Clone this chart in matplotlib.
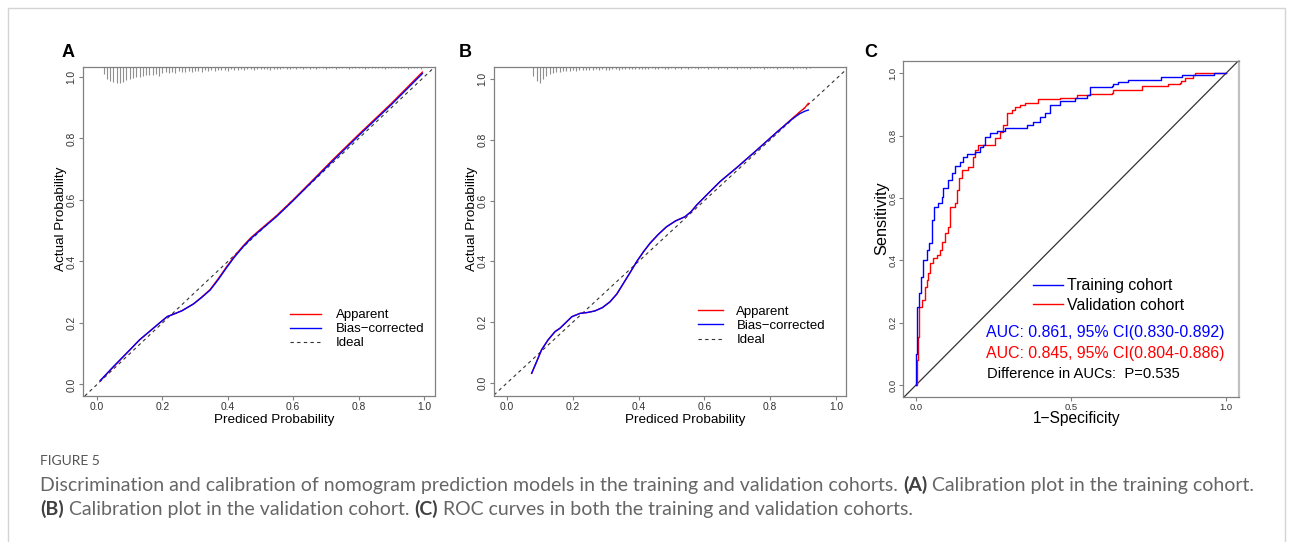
import numpy as np
import matplotlib.pyplot as plt
from matplotlib.patches import Rectangle

plt.rcParams['font.family'] = ['Liberation Sans', 'DejaVu Sans']

# ---- Panel A: calibration, training cohort ----
cal_a_x = [0.01, 0.05, 0.10, 0.13, 0.16, 0.19, 0.215, 0.235, 0.26, 0.295, 0.32, 0.346, 0.37,
           0.397, 0.42, 0.447, 0.47, 0.498, 0.549, 0.60, 0.661, 0.72, 0.80, 0.90, 0.995]
cal_a_apparent = [0.012, 0.057, 0.112, 0.145, 0.172, 0.199, 0.221, 0.229, 0.24, 0.262, 0.284, 0.309,
                  0.343, 0.384, 0.417, 0.451, 0.477, 0.503, 0.549, 0.601, 0.666, 0.73, 0.813, 0.914, 1.016]
cal_a_bias = [0.013, 0.058, 0.112, 0.145, 0.172, 0.199, 0.221, 0.229, 0.24, 0.262, 0.283, 0.307,
              0.34, 0.381, 0.414, 0.448, 0.474, 0.5, 0.546, 0.598, 0.663, 0.726, 0.809, 0.91, 1.011]
rug_a_x = np.round(np.arange(0.02, 0.995, 0.01), 2)
rug_a_n = [7, 12, 14, 15.5, 16, 16, 15, 13.5, 12, 11.5,
           10.5, 10, 9.5, 8.5, 8, 8, 7.5, 9, 6, 5.5,
           6, 5, 6, 4.5, 5, 5.5, 4, 5, 4.5, 4,
           5, 3.5, 4, 3.5, 4, 3, 3.5, 3, 4, 2.5,
           3, 3, 2.5, 3, 2, 2.5, 3, 2, 2.5, 2,
           2, 3, 2, 2, 2.5, 1.5, 2, 2, 1.5, 2,
           1.5, 2, 1.5, 2, 1, 2, 1.5, 1.5, 2, 1,
           1.5, 2, 1, 1.5, 1.5, 2, 1, 1.5, 1, 1.5,
           2, 1, 1.5, 1, 1.5, 1, 2, 1, 1.5, 1,
           1.5, 1, 1.5, 2, 1, 1.5, 1.5, 2]

# ---- Panel B: calibration, validation cohort ----
cal_b_x = [0.075, 0.09, 0.105, 0.125, 0.146, 0.161, 0.18, 0.197, 0.222, 0.245, 0.267, 0.29, 0.313,
           0.334, 0.354, 0.374, 0.394, 0.415, 0.435, 0.46, 0.485, 0.512, 0.541, 0.56, 0.577, 0.61,
           0.647, 0.7, 0.759, 0.82, 0.87, 0.89, 0.905, 0.916]
cal_b_apparent = [0.032, 0.07, 0.109, 0.142, 0.169, 0.18, 0.2, 0.218, 0.229, 0.232, 0.237, 0.248, 0.267,
                  0.293, 0.328, 0.363, 0.399, 0.432, 0.46, 0.489, 0.514, 0.533, 0.547, 0.564, 0.586, 0.622,
                  0.662, 0.71, 0.766, 0.825, 0.873, 0.892, 0.905, 0.92]
cal_b_bias = [0.032, 0.07, 0.109, 0.142, 0.169, 0.18, 0.2, 0.218, 0.229, 0.232, 0.237, 0.248, 0.267,
              0.293, 0.328, 0.363, 0.399, 0.432, 0.46, 0.489, 0.514, 0.533, 0.547, 0.564, 0.586, 0.622,
              0.662, 0.71, 0.766, 0.825, 0.871, 0.886, 0.894, 0.898]
rug_b_x = np.round(np.arange(0.08, 0.925, 0.01), 2)
rug_b_n = [9, 14, 16, 12, 9, 7, 6, 5, 4.5, 4,
           3.5, 4, 3, 3.5, 3, 2.5, 3, 2.5, 3, 2,
           2.5, 2, 2.5, 3, 2, 2, 2.5, 2, 2, 1.5,
           2, 1.5, 2, 1.5, 1.5, 2, 1, 1.5, 1.5, 1,
           1.5, 1.5, 1, 1.5, 1, 1.5, 1, 1.5, 1, 1,
           1.5, 1, 1, 1.5, 1, 1, 1.5, 1, 1, 1.5,
           1, 1, 1.5, 1, 1, 1, 1.5, 1, 1, 1,
           1.5, 1, 1, 1, 1.5, 1, 1, 1, 1, 1.5,
           1, 1, 1, 1.5, 1]

# ---- Panel C: ROC curves ----
roc_train_fpr = [0, 0, 0.002, 0.01, 0.015, 0.024, 0.035, 0.043, 0.051, 0.058, 0.072, 0.083, 0.088, 0.104,
                 0.115, 0.126, 0.142, 0.153, 0.164, 0.19, 0.206, 0.217, 0.223, 0.239, 0.261, 0.287, 0.335,
                 0.357, 0.378, 0.4, 0.416, 0.432, 0.465, 0.513, 0.551, 0.561, 0.631, 0.636, 0.653, 0.685,
                 0.787, 0.79, 0.857, 0.954, 0.96, 1.0]
roc_train_tpr = [0, 0.10, 0.251, 0.294, 0.347, 0.401, 0.433, 0.455, 0.529, 0.572, 0.583, 0.604, 0.631, 0.658,
                 0.679, 0.702, 0.716, 0.732, 0.741, 0.748, 0.762, 0.77, 0.797, 0.808, 0.816, 0.824, 0.824,
                 0.834, 0.845, 0.861, 0.872, 0.898, 0.91, 0.92, 0.93, 0.957, 0.959, 0.966, 0.973, 0.98,
                 0.98, 0.989, 0.995, 0.995, 1.0, 1.0]
roc_valid_fpr = [0, 0.002, 0.006, 0.011, 0.018, 0.029, 0.035, 0.04, 0.045, 0.056, 0.067, 0.077, 0.083, 0.094,
                 0.104, 0.11, 0.126, 0.132, 0.14, 0.148, 0.169, 0.185, 0.19, 0.201, 0.239, 0.255, 0.271,
                 0.282, 0.293, 0.309, 0.319, 0.335, 0.352, 0.395, 0.465, 0.518, 0.561, 0.631, 0.636, 0.723,
                 0.728, 0.809, 0.812, 0.852, 0.855, 0.868, 0.895, 0.9, 1.0]
roc_valid_tpr = [0, 0.08, 0.155, 0.251, 0.273, 0.315, 0.337, 0.358, 0.39, 0.406, 0.417, 0.433, 0.46, 0.487,
                 0.508, 0.572, 0.583, 0.626, 0.663, 0.69, 0.7, 0.732, 0.754, 0.77, 0.77, 0.791, 0.813,
                 0.834, 0.872, 0.882, 0.893, 0.898, 0.906, 0.917, 0.921, 0.93, 0.934, 0.936, 0.948, 0.948,
                 0.959, 0.959, 0.966, 0.968, 0.975, 0.984, 0.995, 1.0, 1.0]
auc_train = (0.861, 0.830, 0.892)
auc_valid = (0.845, 0.804, 0.886)
p_diff = 0.535

W, H = 1293, 542
fig = plt.figure(figsize=(W / 100, H / 100), dpi=100)
fig.patches.append(Rectangle((8 / W, -0.1), 1277 / W, 1.1 - 8 / H, transform=fig.transFigure,
                             fill=False, ec='#d4d4d4', lw=1))


def px_axes(l, t, r, b):
    return fig.add_axes([l / W, 1 - b / H, (r - l) / W, (b - t) / H])


def style_axes(ax, ticksize, pad=1.5):
    for s in ax.spines.values():
        s.set_color('#808080')
        s.set_linewidth(0.9)
    ax.tick_params(length=3, width=0.8, color='#808080', labelsize=ticksize, labelcolor='#333333', pad=pad)
    for lab in ax.get_yticklabels():
        lab.set_rotation(90)
        lab.set_va('center')


def calib_panel(ax, x, app, bias, rx, rn, xlim, ylim, rug_h, leg_anchor, hl, htp):
    ax.set_xlim(*xlim)
    ax.set_ylim(*ylim)
    top = ylim[1]
    h = np.array(rn) / max(rn) * rug_h
    ax.vlines(rx, top - h, top, color='#8f8f8f', lw=0.8)
    ax.axline((0, 0), slope=1, color='#333333', lw=0.8, ls=(0, (3, 3)), label='Ideal', zorder=1)
    ax.plot(x, app, color='#ff0000', lw=1.0, label='Apparent', zorder=3)
    ax.plot(x, bias, color='#0000ff', lw=1.0, label='Bias\u2212corrected', zorder=4)
    ax.set_xticks([0, 0.2, 0.4, 0.6, 0.8, 1.0])
    ax.set_yticks([0, 0.2, 0.4, 0.6, 0.8, 1.0])
    ax.xaxis.set_major_formatter(lambda v, p: f'{v:.1f}')
    ax.yaxis.set_major_formatter(lambda v, p: f'{v:.1f}')
    style_axes(ax, 7.4)
    ax.set_xlabel('Prediced Probability', fontsize=9.7)
    ax.set_ylabel('Actual Probability', fontsize=9.7)
    ax.xaxis.set_label_coords(0.543, -0.055)
    ax.yaxis.set_label_coords(-0.045, 0.54)
    hd, lb = ax.get_legend_handles_labels()
    order = [lb.index('Apparent'), lb.index('Bias\u2212corrected'), lb.index('Ideal')]
    ax.legend([hd[i] for i in order], [lb[i] for i in order], loc='center left',
              bbox_to_anchor=leg_anchor, frameon=False, fontsize=9.5, handlelength=hl,
              handletextpad=htp, labelspacing=0.14, borderpad=0, borderaxespad=0)


ax_a = px_axes(83, 67, 435, 396)
calib_panel(ax_a, cal_a_x, cal_a_apparent, cal_a_bias, rug_a_x, rug_a_n,
            (-0.0428, 1.0336), (-0.0374, 1.0325), 0.052, (0.588, 0.203), 2.35, 1.1)

ax_b = px_axes(494, 67, 846, 396)
calib_panel(ax_b, cal_b_x, cal_b_apparent, cal_b_bias, rug_b_x, rug_b_n,
            (-0.0395, 1.0304), (-0.0428, 1.0395), 0.053, (0.58, 0.213), 1.9, 1.0)

ax_c = px_axes(903, 61, 1239, 397)
ax_c.set_xlim(-0.042, 1.042)
ax_c.set_ylim(-0.0385, 1.0395)
ax_c.axline((0, 0), slope=1, color='#333333', lw=0.9, zorder=1)
ax_c.plot(roc_train_fpr, roc_train_tpr, color='#0000ff', lw=1.0, drawstyle='steps-post',
          label='Training cohort', zorder=3)
ax_c.plot(roc_valid_fpr, roc_valid_tpr, color='#ff0000', lw=1.0, drawstyle='steps-post',
          label='Validation cohort', zorder=2)
ax_c.set_xticks([0, 0.5, 1.0])
ax_c.set_yticks([0, 0.2, 0.4, 0.6, 0.8, 1.0])
ax_c.xaxis.set_major_formatter(lambda v, p: f'{v:.1f}')
ax_c.yaxis.set_major_formatter(lambda v, p: f'{v:.1f}')
style_axes(ax_c, 6.8, pad=1.0)
ax_c.spines['right'].set(color='#c0c0c0', linewidth=1.6)
ax_c.set_xlabel('1\u2212Specificity', fontsize=11.2)
ax_c.set_ylabel('Sensitivity', fontsize=11.7)
ax_c.xaxis.set_label_coords(0.518, -0.041)
ax_c.yaxis.set_label_coords(-0.042, 0.533)
ax_c.legend(loc='center left', bbox_to_anchor=(0.387, 0.302), frameon=False, fontsize=11.4,
            handlelength=1.9, handletextpad=0.25, labelspacing=0.3, borderpad=0, borderaxespad=0)


def ftext(x, y, s, **kw):
    return fig.text(x / W, 1 - y / H, s, **kw)


ftext(986, 333, f'AUC: {auc_train[0]:.3f}, 95% CI({auc_train[1]:.3f}-{auc_train[2]:.3f})',
      color='#0000ff', fontsize=11.4, va='center')
ftext(986, 353.5, f'AUC: {auc_valid[0]:.3f}, 95% CI({auc_valid[1]:.3f}-{auc_valid[2]:.3f})',
      color='#ff0000', fontsize=11.4, va='center')
ftext(987, 373.5, f'Difference in AUCs:  P={p_diff:.3f}', color='black', fontsize=10.6, va='center')

# panel letters
for lx, letter in [(62, 'A'), (459, 'B'), (864, 'C')]:
    ftext(lx, 57, letter, fontsize=13, fontweight='bold', va='baseline')

# caption
ftext(40, 465, 'FIGURE 5', family='Lato', fontsize=10, color='#555555', va='baseline')
renderer = fig.canvas.get_renderer()


def rich_line(x, y, parts, size):
    t0 = ftext(0, 0, 'a a', family='Lato', fontsize=size)
    t1 = ftext(0, 0, 'aa', family='Lato', fontsize=size)
    space = t0.get_window_extent(renderer).width - t1.get_window_extent(renderer).width
    t0.remove()
    t1.remove()
    for s, bold in parts:
        t = ftext(x, y, s, family='Lato', fontsize=size, va='baseline',
                  fontweight='bold' if bold else 'normal',
                  color='#404040' if bold else '#666666')
        x += t.get_window_extent(renderer).width + space


cap_size = 14
rich_line(40, 491, [('Discrimination and calibration of nomogram prediction models in the training '
                     'and validation cohorts.', False), ('(A)', True),
                    ('Calibration plot in the training cohort.', False)], cap_size)
rich_line(40, 515, [('(B)', True), ('Calibration plot in the validation cohort.', False),
                    ('(C)', True), ('ROC curves in both the training and validation cohorts.', False)],
          cap_size)

fig.savefig('out.png', dpi=100)
